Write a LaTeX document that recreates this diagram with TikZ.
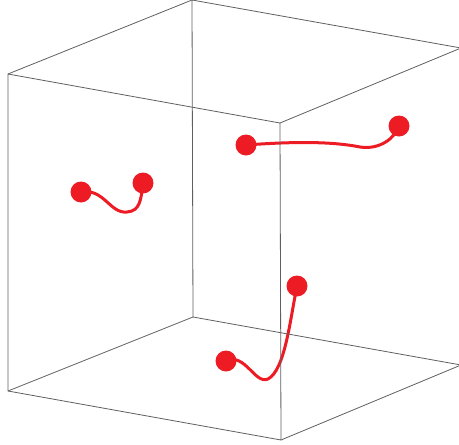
\documentclass[tikz,border=0pt]{standalone}
\definecolor{dotred}{RGB}{237,28,36}
\definecolor{edgegray}{RGB}{95,95,95}
\usepackage{tikz}

\begin{document}
\begin{tikzpicture}[
    x=1pt, y=-1pt,
    dot/.style={circle, fill=dotred, inner sep=0pt, minimum size=21pt},
    link/.style={dotred, line width=3pt, line cap=round},
    edge/.style={edgegray, line width=0.8pt, line join=round}
    ]
    \useasboundingbox (0,0) rectangle (459,445);
    % cube corners
    \coordinate (FTL) at (8,74);
    \coordinate (FTR) at (280,123);
    \coordinate (FBR) at (281,440);
    \coordinate (FBL) at (8,391);
    \coordinate (BTL) at (192,0);
    \coordinate (BTR) at (461,48);
    \coordinate (BBR) at (461,365);
    \coordinate (BBL) at (193,317);
    % particles
    \node[dot] (A1) at (81,192) {};
    \node[dot] (A2) at (143,183) {};
    \node[dot] (B1) at (246,145) {};
    \node[dot] (B2) at (399,126) {};
    \node[dot] (C1) at (226,361) {};
    \node[dot] (C2) at (297,286) {};
    \draw[link] (A1.center) .. controls (104,188) and (110,214) .. (127,212) .. controls (140,211) and (141,200) .. (A2.center);
    \draw[link] (B1.center) .. controls (300,141) and (335,142) .. (360,147) .. controls (380,150) and (395,138) .. (B2.center);
    \draw[link] (C1.center) .. controls (245,352) and (255,385) .. (268,379) .. controls (285,370) and (290,320) .. (C2.center);
    % cube edges
    \draw[edge] (FTL) -- (FTR) -- (FBR) -- (FBL) -- cycle;
    \draw[edge] (BTL) -- (BTR) -- (BBR) -- (BBL) -- cycle;
    \draw[edge] (FTL) -- (BTL);
    \draw[edge] (FTR) -- (BTR);
    \draw[edge] (FBR) -- (BBR);
    \draw[edge] (FBL) -- (BBL);
  \end{tikzpicture}
\end{document}
